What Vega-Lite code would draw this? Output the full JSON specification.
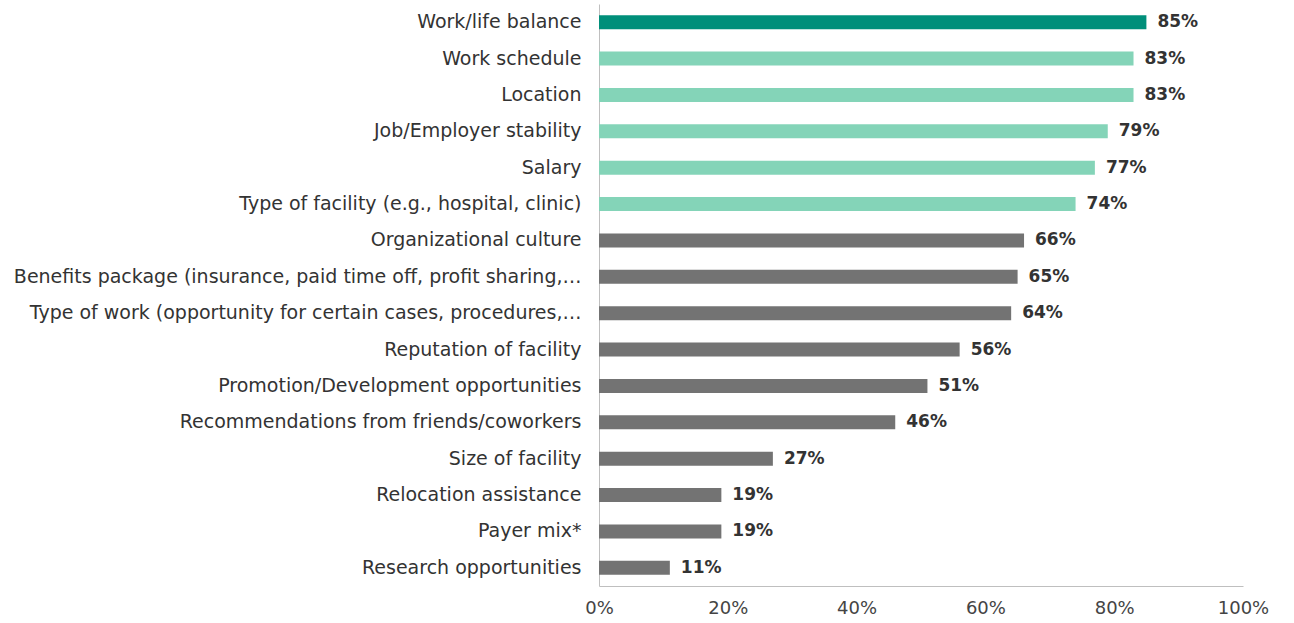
{
  "$schema": "https://vega.github.io/schema/vega-lite/v6.json",
  "width": 644,
  "height": 582,
  "autosize": "none",
  "padding": {"left": 599, "top": 4, "right": 51, "bottom": 37},
  "background": "white",
  "config": {"view": {"stroke": null}},
  "data": {
    "values": [
      {"factor": "Work/life balance", "pct": 85, "group": "top"},
      {"factor": "Work schedule", "pct": 83, "group": "high"},
      {"factor": "Location", "pct": 83, "group": "high"},
      {"factor": "Job/Employer stability", "pct": 79, "group": "high"},
      {"factor": "Salary", "pct": 77, "group": "high"},
      {"factor": "Type of facility (e.g., hospital, clinic)", "pct": 74, "group": "high"},
      {"factor": "Organizational culture", "pct": 66, "group": "other"},
      {"factor": "Benefits package (insurance, paid time off, profit sharing,…", "pct": 65, "group": "other"},
      {"factor": "Type of work (opportunity for certain cases, procedures,…", "pct": 64, "group": "other"},
      {"factor": "Reputation of facility", "pct": 56, "group": "other"},
      {"factor": "Promotion/Development opportunities", "pct": 51, "group": "other"},
      {"factor": "Recommendations from friends/coworkers", "pct": 46, "group": "other"},
      {"factor": "Size of facility", "pct": 27, "group": "other"},
      {"factor": "Relocation assistance", "pct": 19, "group": "other"},
      {"factor": "Payer mix*", "pct": 19, "group": "other"},
      {"factor": "Research opportunities", "pct": 11, "group": "other"}
    ]
  },
  "encoding": {
    "y": {
      "field": "factor",
      "type": "nominal",
      "sort": null,
      "scale": {"paddingInner": 0.6, "paddingOuter": 0.3},
      "axis": {
        "title": null,
        "ticks": false,
        "domain": true,
        "domainColor": "#bfbfbf",
        "labelFont": "DejaVu Sans",
        "labelFontSize": 19,
        "labelColor": "#333333",
        "labelPadding": 18,
        "labelLimit": 700
      }
    },
    "x": {
      "field": "pct",
      "type": "quantitative",
      "scale": {"domain": [0, 100]},
      "axis": {
        "title": null,
        "values": [0, 20, 40, 60, 80, 100],
        "labelExpr": "datum.value + '%'",
        "labelFlush": false,
        "grid": false,
        "ticks": false,
        "domainColor": "#bfbfbf",
        "labelFont": "DejaVu Sans",
        "labelFontSize": 18,
        "labelColor": "#444444",
        "labelPadding": 13
      }
    }
  },
  "layer": [
    {
      "mark": {"type": "bar", "size": 14},
      "encoding": {
        "color": {
          "field": "group",
          "type": "nominal",
          "scale": {"domain": ["top", "high", "other"], "range": ["#008f7a", "#84d4b8", "#737373"]},
          "legend": null
        }
      }
    },
    {
      "mark": {"type": "text", "align": "left", "baseline": "middle", "dx": 11, "font": "DejaVu Sans", "fontWeight": "bold", "fontSize": 17, "color": "#333333", "text": {"expr": "datum.pct + '%'"}}
    }
  ]
}
